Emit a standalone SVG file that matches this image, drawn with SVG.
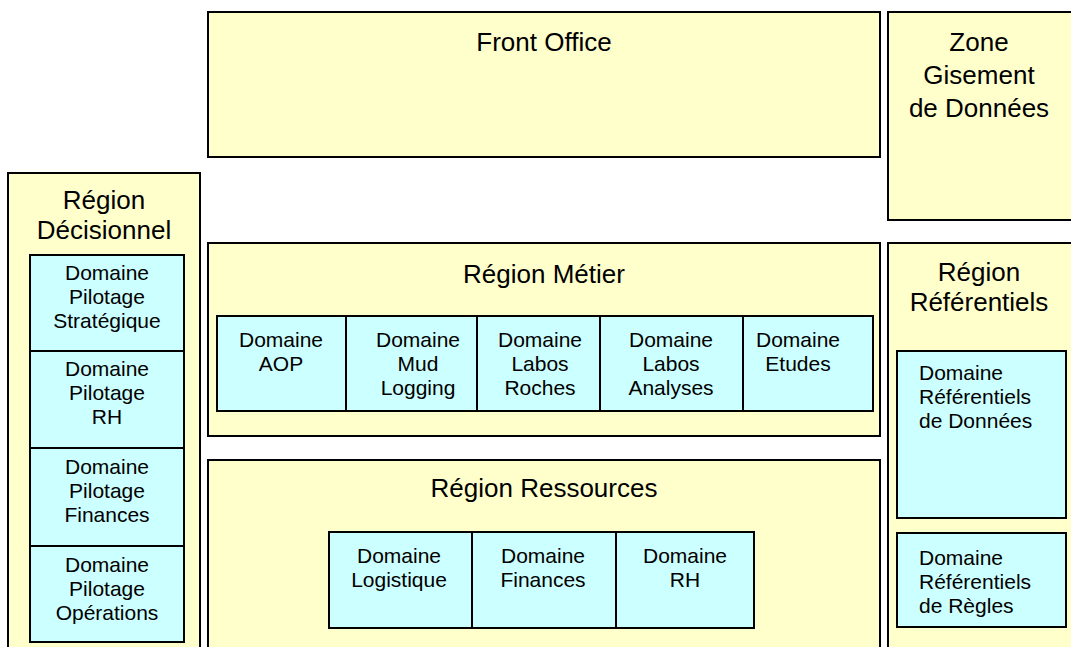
<svg xmlns="http://www.w3.org/2000/svg" width="1071" height="647" viewBox="0 0 1071 647">
<style>
.region{fill:#FFFFCC;stroke:#000;stroke-width:2}
.dom{fill:#CCFFFF;stroke:#000;stroke-width:2}
.t{font-family:"Liberation Sans",Arial,sans-serif;font-size:26px;fill:#000;text-anchor:middle}
.d{font-family:"Liberation Sans",Arial,sans-serif;font-size:21px;fill:#000;text-anchor:middle}
.dl{font-family:"Liberation Sans",Arial,sans-serif;font-size:21px;fill:#000;text-anchor:start}
</style>
<rect x="0" y="0" width="1071" height="647" fill="#fff"/>
<g id="front-office">
<rect class="region" x="208" y="12" width="672" height="145"/>
<text class="t" x="544" y="51">Front Office</text>
</g>
<g id="zone-gisement">
<rect class="region" x="888" y="12" width="190" height="208"/>
<text class="t" x="979" y="51">Zone</text>
<text class="t" x="979" y="84">Gisement</text>
<text class="t" x="979" y="117">de Données</text>
</g>
<g id="region-decisionnel">
<rect class="region" x="8" y="173" width="192" height="490"/>
<text class="t" x="104" y="209">Région</text>
<text class="t" x="104" y="239">Décisionnel</text>
</g>
<g id="dom-pilotage-strategique">
<rect class="dom" x="30" y="255" width="154" height="96"/>
<text class="d" x="107" y="280">Domaine</text>
<text class="d" x="107" y="304">Pilotage</text>
<text class="d" x="107" y="328">Stratégique</text>
</g>
<g id="dom-pilotage-rh">
<rect class="dom" x="30" y="351" width="154" height="97"/>
<text class="d" x="107" y="376">Domaine</text>
<text class="d" x="107" y="400">Pilotage</text>
<text class="d" x="107" y="424">RH</text>
</g>
<g id="dom-pilotage-finances">
<rect class="dom" x="30" y="448" width="154" height="98"/>
<text class="d" x="107" y="474">Domaine</text>
<text class="d" x="107" y="498">Pilotage</text>
<text class="d" x="107" y="522">Finances</text>
</g>
<g id="dom-pilotage-operations">
<rect class="dom" x="30" y="546" width="154" height="96"/>
<text class="d" x="107" y="572">Domaine</text>
<text class="d" x="107" y="596">Pilotage</text>
<text class="d" x="107" y="620">Opérations</text>
</g>
<g id="region-metier">
<rect class="region" x="208" y="243" width="672" height="193"/>
<text class="t" x="544" y="283">Région Métier</text>
</g>
<g id="dom-aop">
<rect class="dom" x="217" y="316" width="129" height="95"/>
<text class="d" x="281" y="347">Domaine</text>
<text class="d" x="281" y="371">AOP</text>
</g>
<g id="dom-mud-logging">
<rect class="dom" x="346" y="316" width="131" height="95"/>
<text class="d" x="418" y="347">Domaine</text>
<text class="d" x="418" y="371">Mud</text>
<text class="d" x="418" y="395">Logging</text>
</g>
<g id="dom-labos-roches">
<rect class="dom" x="477" y="316" width="123" height="95"/>
<text class="d" x="540" y="347">Domaine</text>
<text class="d" x="540" y="371">Labos</text>
<text class="d" x="540" y="395">Roches</text>
</g>
<g id="dom-labos-analyses">
<rect class="dom" x="600" y="316" width="143" height="95"/>
<text class="d" x="671" y="347">Domaine</text>
<text class="d" x="671" y="371">Labos</text>
<text class="d" x="671" y="395">Analyses</text>
</g>
<g id="dom-etudes">
<rect class="dom" x="743" y="316" width="130" height="95"/>
<text class="d" x="798" y="347">Domaine</text>
<text class="d" x="798" y="371">Etudes</text>
</g>
<g id="region-ressources">
<rect class="region" x="208" y="460" width="672" height="200"/>
<text class="t" x="544" y="497">Région Ressources</text>
</g>
<g id="dom-logistique">
<rect class="dom" x="329" y="532" width="143" height="96"/>
<text class="d" x="399" y="563">Domaine</text>
<text class="d" x="399" y="587">Logistique</text>
</g>
<g id="dom-finances">
<rect class="dom" x="472" y="532" width="144" height="96"/>
<text class="d" x="543" y="563">Domaine</text>
<text class="d" x="543" y="587">Finances</text>
</g>
<g id="dom-rh">
<rect class="dom" x="616" y="532" width="138" height="96"/>
<text class="d" x="685" y="563">Domaine</text>
<text class="d" x="685" y="587">RH</text>
</g>
<g id="region-referentiels">
<rect class="region" x="888" y="243" width="190" height="420"/>
<text class="t" x="979" y="281">Région</text>
<text class="t" x="979" y="311">Référentiels</text>
</g>
<g id="dom-ref-donnees">
<rect class="dom" x="897" y="351" width="169" height="167"/>
<text class="dl" x="919" y="380">Domaine</text>
<text class="dl" x="919" y="404">Référentiels</text>
<text class="dl" x="919" y="428">de Données</text>
</g>
<g id="dom-ref-regles">
<rect class="dom" x="897" y="533" width="169" height="94"/>
<text class="dl" x="919" y="565">Domaine</text>
<text class="dl" x="919" y="589">Référentiels</text>
<text class="dl" x="919" y="613">de Règles</text>
</g>
<g id="connectors"></g>
</svg>
